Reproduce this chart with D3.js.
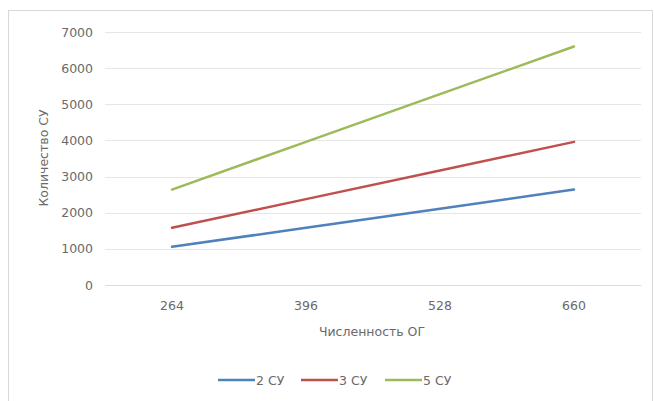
<!DOCTYPE html>
<html><head><meta charset="utf-8">
<script src="https://cdn.jsdelivr.net/npm/d3@7"></script>
<style>body{margin:0;background:#fff}svg{display:block}</style>
</head><body>
<svg id="c" width="654" height="401"></svg>
<script>
const categories = ["264", "396", "528", "660"];
const seriesNames = ["2 СУ", "3 СУ", "5 СУ"];
const s2 = [1056, 1584, 2112, 2640];
const s3 = [1584, 2376, 3168, 3960];
const s5 = [2640, 3960, 5280, 6600];
const yTicks = [0, 1000, 2000, 3000, 4000, 5000, 6000, 7000];
const colors = ["#4F81BD", "#C0504D", "#9BBB59"];
const series = [s2, s3, s5];

const svg = d3.select("#c");
const font = "'DejaVu Sans', sans-serif";
const fs = 12.5;
const txt = "#6a6a6a";

svg.append("rect").attr("x", 8.5).attr("y", 10.5).attr("width", 644).attr("height", 400)
  .attr("fill", "#fff").attr("stroke", "#d9d9d9").attr("stroke-width", 1);

const x = d3.scaleBand().domain(categories).range([105, 641]);
const y = d3.scaleLinear().domain([0, 7000]).range([285, 32]);

svg.append("g").selectAll("line").data(yTicks).join("line")
  .attr("x1", 105).attr("x2", 641)
  .attr("y1", d => Math.round(y(d)) + 0.5).attr("y2", d => Math.round(y(d)) + 0.5)
  .attr("stroke", "#e6e6e6").attr("stroke-width", 1);

const yAxis = svg.append("g").attr("transform", "translate(93,0)")
  .call(d3.axisLeft(y).tickValues(yTicks).tickSize(0).tickPadding(0).tickFormat(d3.format("d")));
yAxis.select(".domain").remove();
yAxis.selectAll("text").attr("font-family", font).attr("font-size", fs).attr("fill", txt);

const xAxis = svg.append("g").attr("transform", "translate(0,285)")
  .call(d3.axisBottom(x).tickSize(0).tickPadding(16));
xAxis.select(".domain").attr("stroke", "#dcdcdc");
xAxis.selectAll("text").attr("font-family", font).attr("font-size", fs).attr("fill", txt);

const line = d3.line().x((d, i) => x(categories[i]) + x.bandwidth() / 2).y(d => y(d));
series.forEach((s, k) => {
  svg.append("path").datum(s).attr("d", line).attr("fill", "none")
    .attr("stroke", colors[k]).attr("stroke-width", 2.5).attr("stroke-linecap", "round");
});

svg.append("text").attr("transform", "translate(48,158) rotate(-90)")
  .attr("text-anchor", "middle").attr("font-family", font).attr("font-size", fs).attr("fill", txt)
  .text("Количество СУ");
svg.append("text").attr("x", 372).attr("y", 336)
  .attr("text-anchor", "middle").attr("font-family", font).attr("font-size", fs).attr("fill", txt)
  .text("Численность ОГ");

const legX = [218, 301, 385];
seriesNames.forEach((n, k) => {
  svg.append("line").attr("x1", legX[k]).attr("x2", legX[k] + 37).attr("y1", 380).attr("y2", 380)
    .attr("stroke", colors[k]).attr("stroke-width", 2.5);
  svg.append("text").attr("x", legX[k] + 38).attr("y", 384.5).attr("font-family", font)
    .attr("font-size", fs).attr("fill", txt).text(n);
});
</script>
</body></html>
